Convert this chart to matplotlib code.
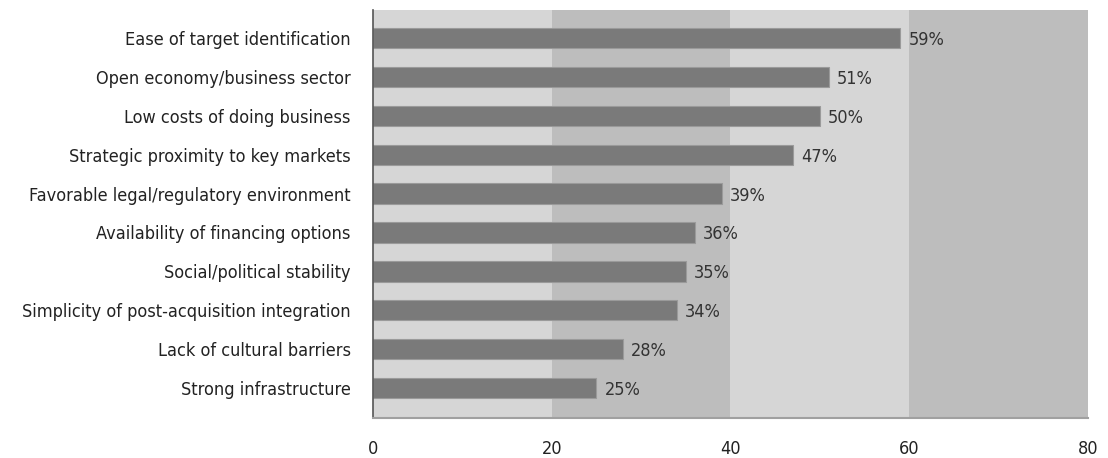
import matplotlib
matplotlib.use('Agg')
import matplotlib.pyplot as plt

# survey factors, top to bottom
factors = [
    'Ease of target identification',
    'Open economy/business sector',
    'Low costs of doing business',
    'Strategic proximity to key markets',
    'Favorable legal/regulatory environment',
    'Availability of financing options',
    'Social/political stability',
    'Simplicity of post-acquisition integration',
    'Lack of cultural barriers',
    'Strong infrastructure',
]
shares = [59, 51, 50, 47, 39, 36, 35, 34, 28, 25]
xticks = [0, 20, 40, 60, 80]

plt.rcParams['font.family'] = ['DejaVu Sans']
plt.rcParams['font.stretch'] = 'condensed'

fig = plt.figure(figsize=(11.08, 4.58), dpi=100)
ax = fig.add_axes([0.3366, 0.0873, 0.6453, 0.8908])

# alternating background bands
band_colors = ['#d6d6d6', '#bdbdbd']
for i in range(len(xticks) - 1):
    ax.axvspan(xticks[i], xticks[i + 1], color=band_colors[i % 2], lw=0, zorder=0)

y = list(range(len(factors)))
ax.barh(y, shares, height=0.52, color='#7a7a7a', edgecolor='#9a9a9a', linewidth=0.8, zorder=2)
for yi, v in zip(y, shares):
    ax.text(v + 0.9, yi + 0.05, f'{v}%', va='center', ha='left', fontsize=13, color='#333333', zorder=3)

ax.set_xlim(0, 80)
ax.set_ylim(len(factors) - 1 + 0.77, -0.72)
ax.set_yticks(y)
ax.set_yticklabels(factors, fontsize=13, color='#222222')
ax.set_xticks(xticks)
ax.set_xticklabels([str(t) for t in xticks], fontsize=13, color='#222222')
ax.tick_params(axis='both', length=0)
ax.tick_params(axis='y', pad=16)
ax.tick_params(axis='x', pad=16)

for s in ['top', 'right']:
    ax.spines[s].set_visible(False)
ax.spines['left'].set_color('#555555')
ax.spines['left'].set_linewidth(1.2)
ax.spines['bottom'].set_color('#a0a0a0')
ax.spines['bottom'].set_linewidth(1.5)

fig.savefig('out.png', dpi=100)
